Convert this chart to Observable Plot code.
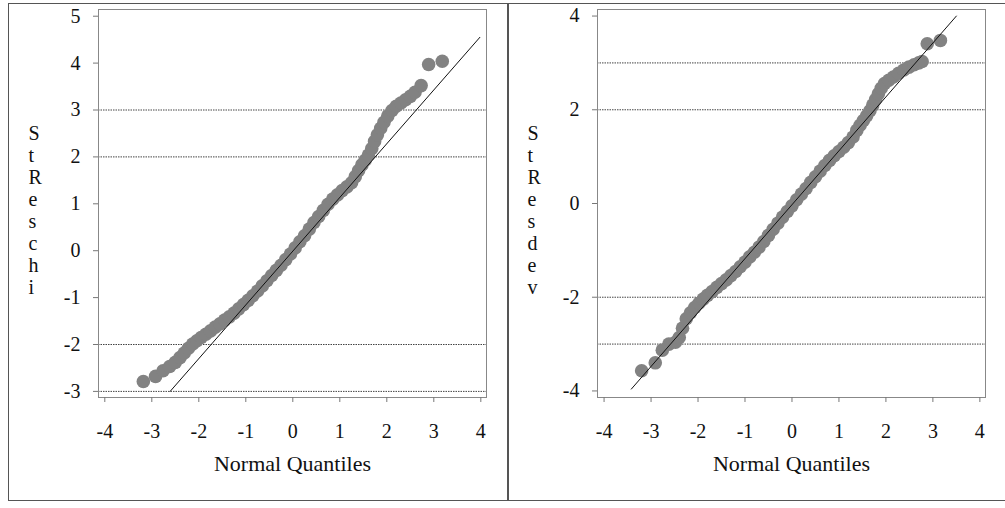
<!DOCTYPE html>
<html><head><meta charset="utf-8">
<script src="https://cdn.jsdelivr.net/npm/d3@7"></script>
<script src="https://cdn.jsdelivr.net/npm/@observablehq/plot@0.6"></script>
<style>
body{margin:0;background:#fff;}
#wrap{position:relative;width:1005px;height:508px;overflow:hidden;font-family:'Liberation Serif';}
.p{position:absolute;top:0;}
#border{position:absolute;left:8px;top:3px;width:1010px;height:498px;border:1.5px solid #555;box-sizing:border-box;pointer-events:none;}
#divider{position:absolute;left:507px;top:3px;width:1.5px;height:497px;background:#555;}
</style></head><body>
<div id="wrap"><div id="left" class="p" style="left:0"></div><div id="right" class="p" style="left:505px"></div><div id="border"></div><div id="divider"></div></div>
<script>
const xTicks = [-4,-3,-2,-1,0,1,2,3,4];
const yTicksLeft = [-3,-2,-1,0,1,2,3,4,5];
const yTicksRight = [-4,-2,0,2,4];
const refLevels = [-3,-2,2,3];
const xLabel = "Normal Quantiles";
const yLabelLeft = "StReschi";
const yLabelRight = "StResdev";
const FONT = "Liberation Serif";

// Left panel: StReschi vs normal quantiles
const leftQ = [-3.18,-2.92,-2.76,-2.62,-2.50,-2.40,-2.31,-2.22,-2.13,-2.04,-1.95,-1.85,-1.75,-1.65,-1.55,-1.45,-1.35,-1.25,-1.15,-1.05,-0.95,-0.85,-0.75,-0.65,-0.55,-0.45,-0.35,-0.25,-0.15,-0.05,0.05,0.15,0.25,0.35,0.45,0.55,0.65,0.75,0.85,0.95,1.05,1.15,1.25,1.33,1.40,1.47,1.54,1.61,1.68,1.74,1.80,1.87,1.94,2.02,2.11,2.20,2.30,2.40,2.50,2.60,2.73,2.89,3.18];
const leftR = [-2.79,-2.68,-2.56,-2.47,-2.38,-2.28,-2.18,-2.08,-1.99,-1.92,-1.85,-1.78,-1.71,-1.63,-1.56,-1.48,-1.41,-1.33,-1.24,-1.15,-1.06,-0.96,-0.86,-0.75,-0.64,-0.53,-0.42,-0.31,-0.19,-0.07,0.06,0.19,0.32,0.46,0.60,0.73,0.86,0.99,1.10,1.19,1.28,1.36,1.45,1.58,1.71,1.83,1.93,2.04,2.18,2.33,2.47,2.61,2.74,2.87,2.99,3.08,3.15,3.22,3.29,3.38,3.52,3.97,4.04];
const leftLineQ = [-2.61, 3.98];
const leftLineR = [-3.0, 4.55];

// Right panel: StResdev vs normal quantiles
const rightQ = [-3.20,-2.91,-2.76,-2.62,-2.48,-2.40,-2.33,-2.25,-2.16,-2.07,-1.98,-1.89,-1.80,-1.70,-1.60,-1.50,-1.40,-1.30,-1.20,-1.10,-1.00,-0.90,-0.80,-0.70,-0.60,-0.50,-0.40,-0.30,-0.20,-0.10,0.00,0.10,0.20,0.30,0.40,0.50,0.60,0.70,0.80,0.90,1.00,1.10,1.20,1.30,1.38,1.45,1.52,1.59,1.66,1.72,1.78,1.84,1.90,1.97,2.06,2.16,2.27,2.38,2.49,2.60,2.70,2.77,2.88,3.16];
const rightR = [-3.57,-3.40,-3.13,-3.00,-2.96,-2.86,-2.66,-2.46,-2.33,-2.22,-2.13,-2.04,-1.96,-1.88,-1.79,-1.71,-1.63,-1.54,-1.45,-1.35,-1.25,-1.14,-1.04,-0.93,-0.81,-0.68,-0.55,-0.42,-0.29,-0.17,-0.05,0.08,0.20,0.32,0.45,0.57,0.69,0.81,0.92,1.02,1.11,1.20,1.30,1.42,1.56,1.67,1.77,1.87,1.98,2.10,2.22,2.34,2.46,2.56,2.63,2.70,2.78,2.85,2.91,2.96,3.00,3.03,3.41,3.48];
const rightLineQ = [-3.42, 3.50];
const rightLineR = [-3.96, 4.00];

function panel({q, r, lineQ, lineR, yTicks, xDomain, yDomain, yLabel, width, marginLeft, marginRight}) {
  const pts = q.map((_, i) => i);
  const ln = lineQ.map((_, i) => i);
  const svg = Plot.plot({
    width, height: 508,
    marginLeft, marginRight, marginTop: 9, marginBottom: 111,
    x: {domain: xDomain},
    y: {domain: yDomain},
    style: {fontFamily: FONT, fontSize: "20px", background: "none", color: "#111", overflow: "visible"},
    marks: [
      Plot.ruleY(refLevels, {stroke: "#444", strokeDasharray: "1.5,1", strokeWidth: 1}),
      Plot.dot(pts, {x: i => q[i], y: i => r[i], r: 6.8, fill: "#828282"}),
      Plot.line(ln, {x: i => lineQ[i], y: i => lineR[i], stroke: "#111", strokeWidth: 1}),
      Plot.frame({stroke: "#888"}),
      Plot.axisX(xTicks, {tickSize: 5, tickPadding: 21, tickFormat: d => String(d), label: null, stroke: "#777", fontSize: 20}),
      Plot.axisY(yTicks, {tickSize: 5, tickPadding: 13, tickFormat: d => String(d), label: null, stroke: "#777", fontSize: 20}),
      Plot.text([xLabel], {frameAnchor: "bottom", dy: 66, lineAnchor: "middle", fontSize: 22, fill: "#111"}),
      Plot.text([yLabel.split("").join("\n")], {frameAnchor: "top-left", dx: -70, dy: 115, textAnchor: "start", lineAnchor: "top", lineHeight: 1.1, fontSize: 20, fill: "#111"})
    ]
  });
  d3.select(svg).attr("font-family", FONT).style("font-family", FONT);
  d3.select(svg).selectAll("g, text, tspan").attr("font-family", FONT).style("font-family", FONT).style("font-variant", "normal");
  return svg;
}

document.getElementById("left").append(panel({
  q: leftQ, r: leftR, lineQ: leftLineQ, lineR: leftLineR, yTicks: yTicksLeft,
  xDomain: [-4.134, 4.121], yDomain: [-3.13, 5.143], yLabel: yLabelLeft,
  width: 505, marginLeft: 98, marginRight: 19
}));
document.getElementById("right").append(panel({
  q: rightQ, r: rightR, lineQ: rightLineQ, lineR: rightLineR, yTicks: yTicksRight,
  xDomain: [-4.14, 4.12], yDomain: [-4.14, 4.14], yLabel: yLabelRight,
  width: 500, marginLeft: 92, marginRight: 20
}));
</script>
</body></html>
